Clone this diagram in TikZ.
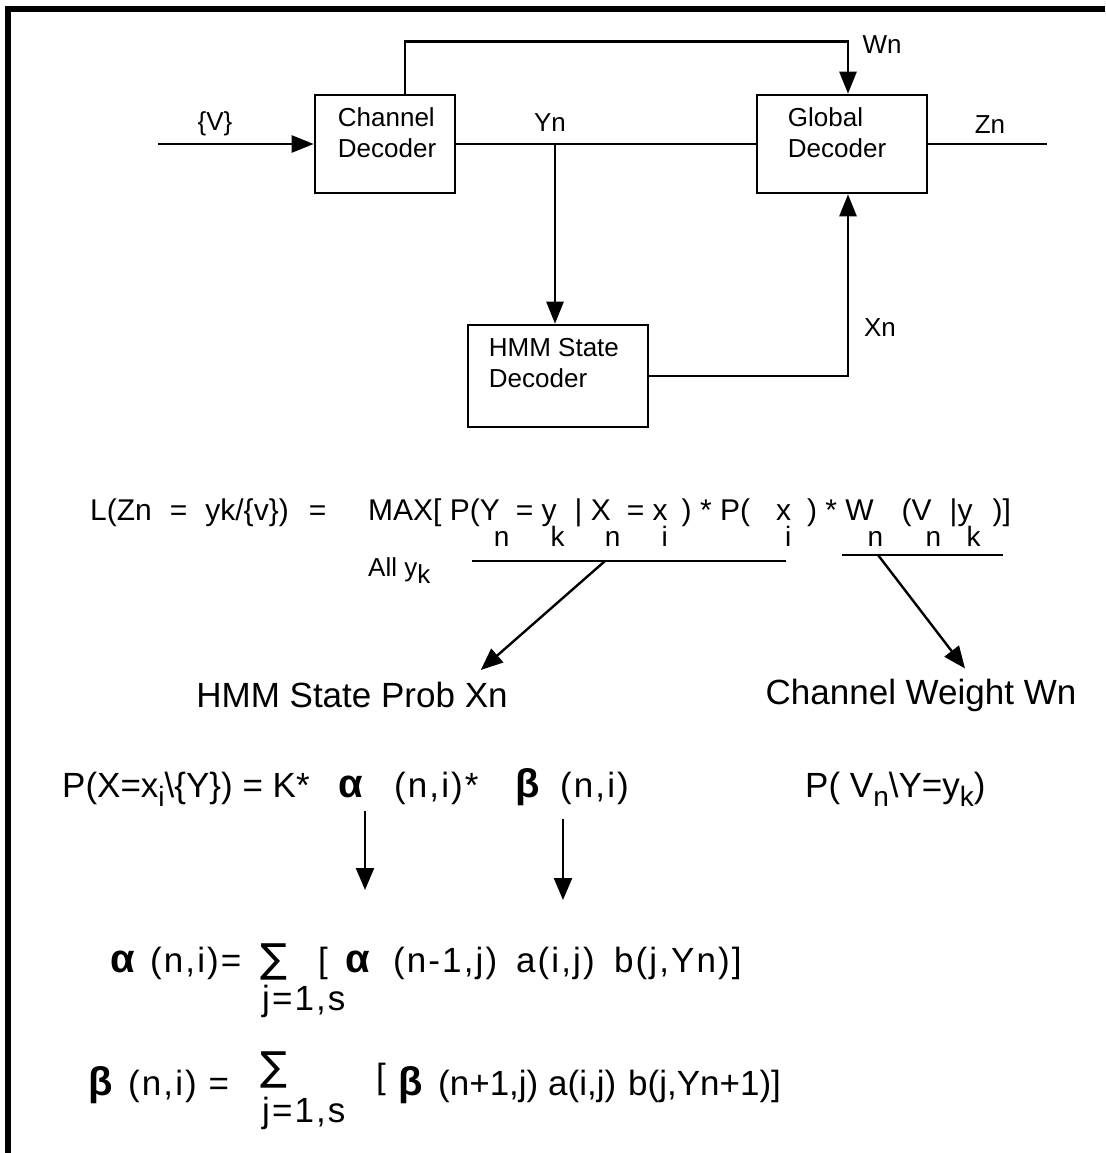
\documentclass[tikz,border=0pt]{standalone}
\usepackage{fontspec}
\setmainfont{Liberation Sans}
\newfontfamily\symfont{DejaVu Sans}
\newfontfamily\eqfont[LetterSpace=6]{Liberation Sans}
\usetikzlibrary{arrows.meta, positioning}
\newcommand\dn[1]{\rlap{\hspace{-6pt}\raisebox{-26pt}{\fontsize{28}{30}\selectfont #1}}}
\newcommand\lo[1]{\raisebox{-9pt}{\fontsize{28}{30}\selectfont #1}}
\newcommand\grk[1]{{\fontsize{40}{40}\selectfont\bfseries #1}}
\tikzset{
  blockbox/.style={rectangle, draw=black, line width=2.6pt, fill=white},
  boxtxt/.style={anchor=north west, align=left, inner sep=0pt, font=\fontsize{26}{31}\selectfont},
  sigtxt/.style={inner sep=0pt, font=\fontsize{26}{30}\selectfont},
  eqtxt/.style={anchor=base west, inner sep=0pt, font=\fontsize{30}{36}\selectfont},
  fbtxt/.style={anchor=base west, inner sep=0pt, font=\eqfont\fontsize{35}{40}\selectfont},
  fbplain/.style={anchor=base west, inner sep=0pt, font=\fontsize{35}{40}\selectfont},
  bigtxt/.style={inner sep=0pt, font=\fontsize{35}{40}\selectfont},
  wire/.style={line width=2.6pt},
  sigarr/.style={wire, -{Triangle[length=22pt,width=17pt]}},
  thinarr/.style={line width=2.4pt, -{Triangle[length=22pt,width=18pt]}},
}
\begin{document}
\begin{tikzpicture}[x=1pt, y=-1pt]
\useasboundingbox (0,0) rectangle (1105,1153);
% frame (left and top edge only)
\draw[line width=6pt] (8,1153) -- (8,9) -- (1105,9);

% block diagram
\node[blockbox, minimum width=140pt, minimum height=98pt] (chan) at (385,144) {};
\node[boxtxt] (chantxt) at ([shift={(24,14)}]chan.north west) {Channel\\Decoder};
\node[blockbox, minimum width=170pt, minimum height=98pt] (glob) at (842,144) {};
\node[boxtxt] (globtxt) at ([shift={(32,14)}]glob.north west) {Global\\Decoder};
\node[blockbox, minimum width=180pt, minimum height=102pt] (hmm) at (558,376) {};
\node[boxtxt] (hmmtxt) at ([shift={(22,14)}]hmm.north west) {HMM State\\Decoder};

\coordinate (vin) at (158,144);
\coordinate (zout) at (1047,144);
\coordinate (ybr) at (555,144);
\node[sigtxt] (vlbl) at (215,124) {\{V\}};
\node[sigtxt] (ylbl) at (550,123) {Yn};
\node[sigtxt] (zlbl) at (990,125) {Zn};
\node[sigtxt] (wlbl) at (882,45) {Wn};
\node[sigtxt] (xlbl) at (880,328) {Xn};

\draw[sigarr] (vin) -- (chan.west);
\draw[wire] (chan.east) -- (glob.west);
\draw[wire] (glob.east) -- (zout);
\draw[sigarr] (ybr) -- (ybr |- hmm.north);
\draw[sigarr] ([xshift=20pt]chan.north) -- ++(0,-52) -| ([xshift=6pt]glob.north);
\draw[sigarr] (hmm.east) -| ([xshift=6pt]glob.south);

% likelihood
\node[eqtxt] (lhs) at (90,520) {L(Zn\hspace{18pt}=\hspace{18pt}yk/\{v\})\hspace{20pt}=};
\node[eqtxt] (maxeq) at (368,520) {MAX[ P(Y\dn{n}\hspace{16pt}= y\dn{k}\hspace{18pt}| X\dn{n}\hspace{16pt}= x\dn{i}\hspace{14pt}) * P(\hspace{26pt}x\dn{i}\hspace{16pt}) * W\dn{n}\hspace{28pt}(V\dn{n}\hspace{18pt}|y\dn{k}\hspace{20pt})]};
\node[eqtxt, font=\fontsize{26}{30}\selectfont] (ally) at (368,576) {All y\raisebox{-7pt}{k}};
\coordinate (ul1a) at (472,561);
\coordinate (ul1b) at (786,561);
\coordinate (ul1m) at (605,561);
\coordinate (ul2a) at (842,555);
\coordinate (ul2b) at (1003,555);
\coordinate (ul2m) at (878,555);
\draw[wire] (ul1a) -- (ul1b);
\draw[wire] (ul2a) -- (ul2b);

\node[bigtxt] (probx) at (352,695) {HMM State Prob Xn};
\node[bigtxt] (chw) at (921,695) {Channel Weight Wn};
\draw[thinarr] (ul1m) -- ([shift={(-27,-12)}]probx.north east);
\draw[thinarr] (ul2m) -- ([shift={(44,-10)}]chw.north);

% forward-backward
\node[fbplain] (pxeq) at (62,797) {P(X=x\lo{i}\textbackslash\{Y\}) = K*};
\node[fbtxt] (a1) at (338,797) {\grk{α}};
\node[fbtxt] (a1arg) at (394,797) {(n,i)*};
\node[fbtxt] (b1) at (515,797) {\grk{β}};
\node[fbtxt] (b1arg) at (560,797) {(n,i)};
\node[fbplain] (pvy) at (805,797) {P( V\lo{n}\textbackslash Y=y\lo{k})};
\coordinate (atip) at (365,890);
\coordinate (btip) at (563,900);
\draw[thinarr, shorten <=13pt] (a1.south -| atip) -- (atip);
\draw[thinarr, shorten <=13pt] (b1.south -| btip) -- (btip);

\node[fbtxt] (a2) at (110,972) {\grk{α}};
\node[fbtxt] (a2arg) at (150,972) {(n,i)=};
\node[fbtxt] (sum1) at (260,972) {\symfont\fontsize{40}{40}\selectfont ∑};
\node[fbtxt] (lim1) at (262,1010) {j=1,s};
\node[fbtxt] (brk1) at (318,972) {[};
\node[fbtxt] (a3) at (345,972) {\grk{α}};
\node[fbtxt] (a3arg) at (393,972) {(n-1,j)};
\node[fbtxt] (aij1) at (516,972) {a(i,j)};
\node[fbtxt] (bj1) at (614,972) {b(j,Yn)]};

\node[fbtxt] (b2) at (88,1095) {\grk{β}};
\node[fbtxt] (b2arg) at (128,1095) {(n,i) =};
\node[fbtxt] (sum2) at (260,1080) {\symfont\fontsize{40}{40}\selectfont ∑};
\node[fbtxt] (lim2) at (262,1122) {j=1,s};
\node[fbtxt] (brk2) at (376,1088) {[};
\node[fbtxt] (b3) at (398,1095) {\grk{β}};
\node[fbplain] (b3arg) at (438,1095) {(n+1,j)};
\node[fbplain] (aij2) at (548,1095) {a(i,j)};
\node[fbplain] (bj2) at (628,1095) {b(j,Yn+1)]};
\end{tikzpicture}
\end{document}
